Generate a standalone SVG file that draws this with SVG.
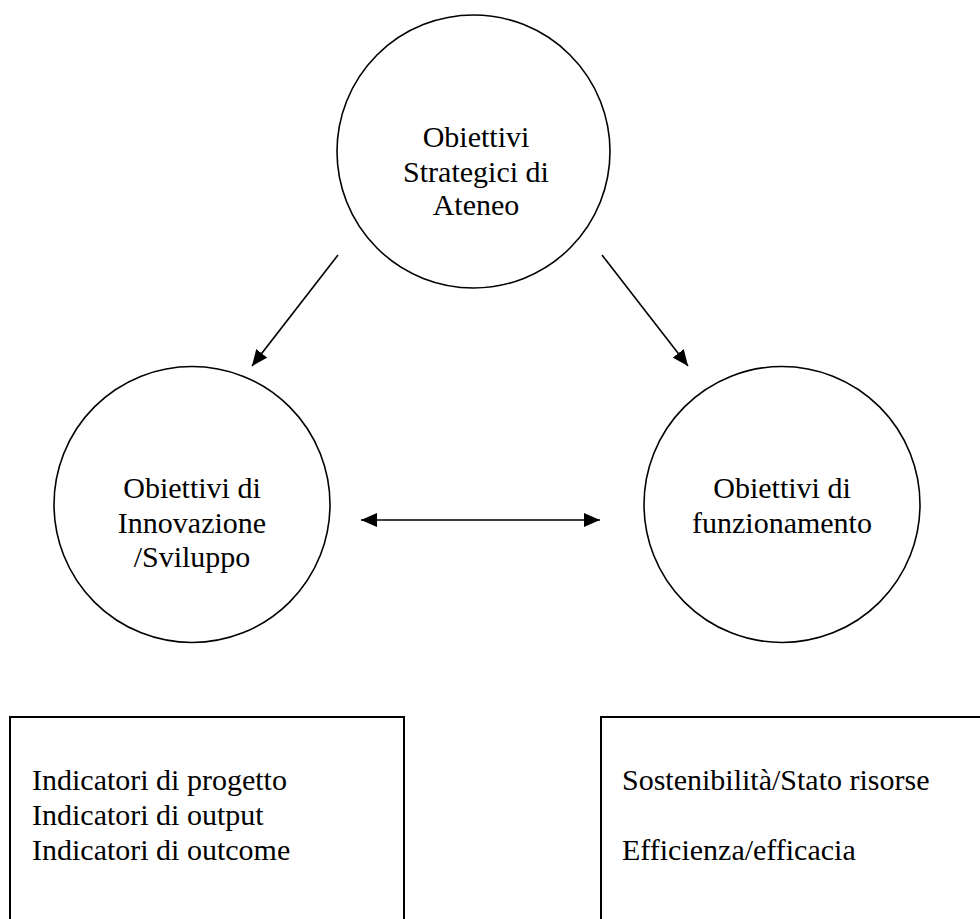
<svg xmlns="http://www.w3.org/2000/svg" width="980" height="919" viewBox="0 0 980 919">
<style>
.node{fill:#fff;stroke:#000;stroke-width:1.6}
.box{fill:#fff;stroke:#000;stroke-width:2}
.t{font-family:"Liberation Serif","Times New Roman",serif;font-size:30px;fill:#000}
.c{text-anchor:middle}
.edge{stroke:#000;stroke-width:1.6;fill:none}
</style>
<defs>
<marker id="ah" markerUnits="userSpaceOnUse" markerWidth="17" markerHeight="14" refX="16" refY="7" orient="auto-start-reverse" viewBox="0 0 17 14">
<path d="M0,0 L16,7 L0,14 z" fill="#000"/>
</marker>
</defs>
<rect width="980" height="919" fill="#fff"/>
<g id="strategici">
<circle class="node" cx="473.5" cy="151.5" r="136.5"/>
<text class="t c" x="476" y="147">Obiettivi</text>
<text class="t c" x="476" y="182">Strategici di</text>
<text class="t c" x="476" y="215">Ateneo</text>
</g>
<g id="innovazione">
<circle class="node" cx="192" cy="504.5" r="138"/>
<text class="t c" x="192" y="498">Obiettivi di</text>
<text class="t c" x="192" y="533">Innovazione</text>
<text class="t c" x="192" y="567">/Sviluppo</text>
</g>
<g id="funzionamento">
<circle class="node" cx="782" cy="504.5" r="138"/>
<text class="t c" x="782" y="498">Obiettivi di</text>
<text class="t c" x="782" y="533">funzionamento</text>
</g>
<g id="indicatori">
<rect class="box" x="10" y="717" width="394" height="230"/>
<text class="t" x="32" y="790">Indicatori di progetto</text>
<text class="t" x="32" y="825">Indicatori di output</text>
<text class="t" x="32" y="860">Indicatori di outcome</text>
</g>
<g id="sostenibilita">
<rect class="box" x="601" y="717" width="400" height="230"/>
<text class="t" x="622" y="790">Sostenibilità/Stato risorse</text>
<text class="t" x="622" y="860">Efficienza/efficacia</text>
</g>
<g id="connectors">
<line class="edge" x1="338" y1="255" x2="252" y2="366" marker-end="url(#ah)"/>
<line class="edge" x1="602" y1="255" x2="688" y2="366" marker-end="url(#ah)"/>
<line class="edge" x1="361" y1="520" x2="600" y2="520" marker-start="url(#ah)" marker-end="url(#ah)"/>
</g>
</svg>
